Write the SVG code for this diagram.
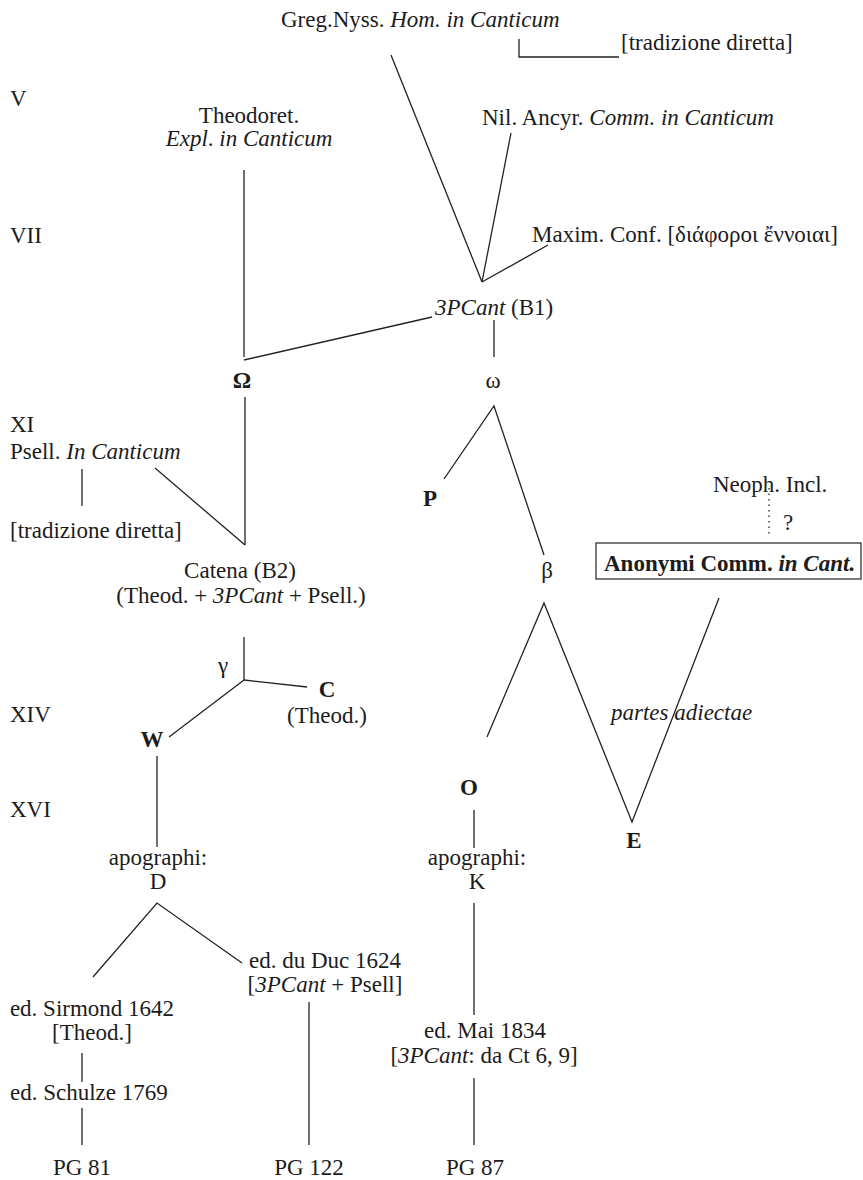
<svg xmlns="http://www.w3.org/2000/svg" width="863" height="1180" viewBox="0 0 863 1180">
<style>
text{font-family:Liberation Serif,Times New Roman,DejaVu Serif,serif;font-size:23px;fill:#1c1c1c}
.m{text-anchor:middle}
.b{font-weight:bold}
.i{font-style:italic}
.c line,.c polyline{stroke:#222;stroke-width:1.3;fill:none}
.dot{stroke-dasharray:1.5 4}
.box{fill:#fff;stroke:#333;stroke-width:1.3}
</style>
<rect width="863" height="1180" fill="#fff"/>
<g id="centuries">
<text x="10" y="106">V</text>
<text x="10" y="243">VII</text>
<text x="10" y="432">XI</text>
<text x="10" y="722">XIV</text>
<text x="10" y="817">XVI</text>
</g>
<g class="c" id="connectors">
<line x1="391" y1="55" x2="482" y2="282"/>
<line x1="511" y1="133" x2="482" y2="282"/>
<line x1="548" y1="245" x2="482" y2="282"/>
<polyline points="519,39 519,57 619,57"/>
<line x1="244" y1="170" x2="244" y2="357"/>
<line x1="244" y1="360" x2="432" y2="317"/>
<line x1="494" y1="320" x2="494" y2="357"/>
<line x1="245" y1="397" x2="245" y2="545"/>
<line x1="155" y1="468" x2="245" y2="545"/>
<line x1="82" y1="469" x2="82" y2="506"/>
<polyline points="444,479 494,406 544,555"/>
<polyline points="487,737 544,603 632,822 719,598"/>
<line class="dot" x1="769" y1="488" x2="769" y2="537"/>
<line x1="244" y1="637" x2="244" y2="680"/>
<line x1="244" y1="680" x2="307" y2="687"/>
<line x1="244" y1="680" x2="169" y2="737"/>
<line x1="157" y1="756" x2="157" y2="847"/>
<polyline points="93,977 157,903 242,963"/>
<line x1="309" y1="1002" x2="309" y2="1145"/>
<line x1="82" y1="1053" x2="82" y2="1082"/>
<line x1="82" y1="1108" x2="82" y2="1145"/>
<line x1="474" y1="810" x2="474" y2="848"/>
<line x1="474" y1="903" x2="474" y2="1015"/>
<line x1="474" y1="1078" x2="474" y2="1145"/>
</g>
<g id="greg"><text x="281" y="27">Greg.Nyss. <tspan class="i">Hom. in Canticum</tspan></text></g>
<g id="greg-trad"><text x="621" y="50">[tradizione diretta]</text></g>
<g id="theodoret"><text class="m" x="249" y="123">Theodoret.</text><text class="m i" x="249" y="146">Expl<tspan font-style="normal">.</tspan> in Canticum</text></g>
<g id="nil"><text x="482" y="125">Nil. Ancyr. <tspan class="i">Comm. in Canticum</tspan></text></g>
<g id="maxim"><text x="532" y="242">Maxim. Conf. [διάφοροι ἔννοιαι]</text></g>
<g id="b1"><text x="435" y="315"><tspan class="i">3PCant</tspan> (B1)</text></g>
<g id="Omega"><text class="m b" x="242" y="388">Ω</text></g>
<g id="omega"><text class="m" x="493" y="388">ω</text></g>
<g id="psell"><text x="10" y="459">Psell. <tspan class="i">In Canticum</tspan></text></g>
<g id="psell-trad"><text x="10" y="538">[tradizione diretta]</text></g>
<g id="P"><text class="m b" x="430" y="506">P</text></g>
<g id="beta"><text class="m" x="547" y="578">β</text></g>
<g id="neoph"><text x="713" y="492">Neoph. Incl.</text><text x="783" y="530">?</text></g>
<g id="anonymi"><rect class="box" x="596" y="543" width="265" height="36"/><text class="b" x="604" y="571">Anonymi Comm. <tspan class="i">in Cant.</tspan></text></g>
<g id="catena"><text class="m" x="240" y="578">Catena (B2)</text><text class="m" x="241" y="603">(Theod. + <tspan class="i">3PCant</tspan> + Psell.)</text></g>
<g id="gamma"><text class="m" x="223" y="673">γ</text></g>
<g id="C"><text class="m b" x="327" y="697">C</text><text class="m" x="327" y="723">(Theod.)</text></g>
<g id="W"><text class="m b" x="152" y="747">W</text></g>
<g id="partes"><text class="i" x="611" y="720">partes adiectae</text></g>
<g id="O"><text class="m b" x="469" y="795">O</text></g>
<g id="E"><text class="m b" x="634" y="848">E</text></g>
<g id="D"><text class="m" x="158" y="865">apographi:</text><text class="m" x="158" y="889">D</text></g>
<g id="K"><text class="m" x="477" y="865">apographi:</text><text class="m" x="477" y="889">K</text></g>
<g id="duduc"><text class="m" x="325" y="968">ed. du Duc 1624</text><text class="m" x="325" y="992">[<tspan class="i">3PCant</tspan> + Psell]</text></g>
<g id="sirmond"><text class="m" x="92" y="1016">ed. Sirmond 1642</text><text class="m" x="92" y="1040">[Theod.]</text></g>
<g id="schulze"><text x="10" y="1100">ed. Schulze 1769</text></g>
<g id="mai"><text class="m" x="485" y="1038">ed. Mai 1834</text><text class="m" x="484" y="1063">[<tspan class="i">3PCant</tspan>: da Ct 6, 9]</text></g>
<g id="pg81"><text class="m" x="82" y="1175">PG 81</text></g>
<g id="pg122"><text class="m" x="309" y="1175">PG 122</text></g>
<g id="pg87"><text class="m" x="475" y="1175">PG 87</text></g>
</svg>
